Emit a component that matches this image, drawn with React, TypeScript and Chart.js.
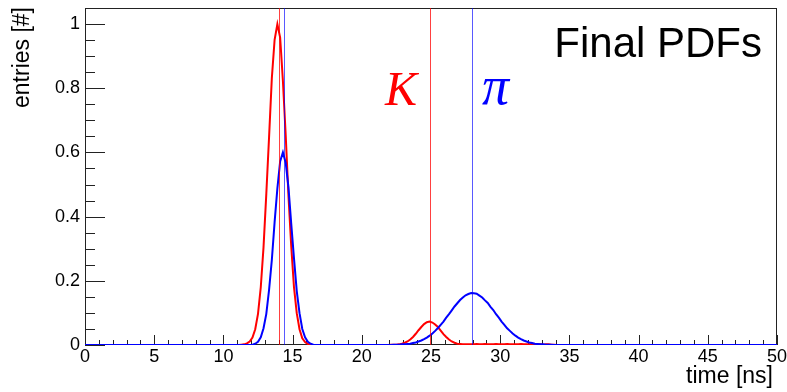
import { useEffect, useRef } from "react";
import { Chart, registerables } from "chart.js";

Chart.register(...registerables);

// Axis ranges and tick spacing
const X_MIN = 0;
const X_MAX = 50;
const Y_MIN = 0;
const Y_MAX = 1.05;
const X_MAJOR = 5;
const X_MINOR = 1;
const Y_MAJOR = 0.2;
const Y_MINOR = 0.05;

// Histogram binning (bin centres sit on odd tenths: 0.1, 0.3, ...)
const BIN_WIDTH = 0.2;

// Kaon PDF (red): prompt peak and delayed peak with a flat low tail
const KAON_PEAK1_START = 11.3;
const KAON_PEAK1 = [
  0.001, 0.002, 0.005, 0.011, 0.023, 0.049, 0.097, 0.18, 0.305, 0.471, 0.648, 0.832, 0.951, 1.0,
  0.958, 0.823, 0.655, 0.466, 0.309, 0.18, 0.099, 0.049, 0.021, 0.009, 0.003, 0.001, 0.0,
];
const KAON_PEAK2_START = 21.9;
const KAON_PEAK2 = [
  0.0, 0.001, 0.001, 0.001, 0.002, 0.004, 0.007, 0.011, 0.017, 0.025, 0.035, 0.046, 0.056, 0.065,
  0.071, 0.073, 0.07, 0.064, 0.056, 0.045, 0.034, 0.025, 0.017, 0.011, 0.007, 0.004, 0.003, 0.002,
  0.002, 0.002, 0.002, 0.002, 0.003, 0.002, 0.002, 0.003, 0.002, 0.002, 0.002, 0.003, 0.002, 0.002,
  0.002, 0.003, 0.002, 0.002, 0.002, 0.002, 0.003, 0.002, 0.002, 0.002, 0.002, 0.002, 0.002, 0.002,
  0.001, 0.002, 0.002, 0.001, 0.001,
];

// Pion PDF (blue)
const PION_PEAK1_START = 12.1;
const PION_PEAK1 = [
  0.001, 0.004, 0.01, 0.024, 0.052, 0.097, 0.172, 0.265, 0.383, 0.488, 0.572, 0.6, 0.568, 0.492,
  0.378, 0.27, 0.168, 0.099, 0.05, 0.024, 0.01, 0.004, 0.001,
];
const PION_PEAK2_START = 21.9;
const PION_PEAK2 = [
  0.0, 0.0, 0.001, 0.001, 0.001, 0.002, 0.002, 0.003, 0.004, 0.006, 0.008, 0.011, 0.014, 0.018,
  0.023, 0.029, 0.036, 0.044, 0.053, 0.063, 0.073, 0.085, 0.096, 0.108, 0.12, 0.13, 0.14, 0.148,
  0.155, 0.159, 0.162, 0.161, 0.16, 0.154, 0.148, 0.139, 0.131, 0.119, 0.109, 0.096, 0.085, 0.073,
  0.063, 0.052, 0.044, 0.036, 0.029, 0.023, 0.018, 0.014, 0.011, 0.008, 0.006, 0.004, 0.003, 0.002,
  0.002, 0.001, 0.001, 0.001, 0.0, 0.0,
];

// Mean arrival times marked with vertical lines
const KAON_MEANS = [14.0, 24.95];
const PION_MEANS = [14.35, 27.95];

const RED = "#ff0000";
const BLUE = "#0000ff";
const SANS = '"Liberation Sans", Arial, Helvetica, sans-serif';
const SERIF = '"Liberation Serif", "Times New Roman", serif';

type Segment = { start: number; values: number[] };

function histogramPoints(segments: Segment[]) {
  const nBins = Math.round((X_MAX - X_MIN) / BIN_WIDTH);
  const bins: number[] = new Array(nBins).fill(0);
  for (const seg of segments) {
    const first = Math.round((seg.start - X_MIN) / BIN_WIDTH - 0.5);
    seg.values.forEach((v, i) => {
      if (first + i >= 0 && first + i < nBins) bins[first + i] = v;
    });
  }
  const pts = [{ x: X_MIN, y: 0 }];
  bins.forEach((v, i) => pts.push({ x: X_MIN + (i + 0.5) * BIN_WIDTH, y: v }));
  pts.push({ x: X_MAX, y: 0 });
  return pts;
}

const frameAndTicks = {
  id: "frameAndTicks",
  beforeDatasetsDraw(chart: any) {
    const { ctx, chartArea, scales } = chart;
    const { left, right, top, bottom } = chartArea;
    const x = scales.x;
    const y = scales.y;
    ctx.save();
    ctx.lineWidth = 1;
    ctx.strokeStyle = "#222";
    ctx.strokeRect(left + 0.5, top + 0.5, right - left - 1, bottom - top - 1);

    const nx = Math.round((X_MAX - X_MIN) / X_MINOR);
    const perMajorX = Math.round(X_MAJOR / X_MINOR);
    ctx.beginPath();
    for (let i = 0; i <= nx; i++) {
      const px = Math.round(x.getPixelForValue(X_MIN + i * X_MINOR)) + 0.5;
      const len = i % perMajorX === 0 ? 10 : 5;
      ctx.moveTo(px, bottom);
      ctx.lineTo(px, bottom - len);
    }
    const ny = Math.floor((Y_MAX - Y_MIN) / Y_MINOR + 1e-6);
    const perMajorY = Math.round(Y_MAJOR / Y_MINOR);
    for (let i = 0; i <= ny; i++) {
      const py = Math.round(y.getPixelForValue(Y_MIN + i * Y_MINOR)) + 0.5;
      const len = i % perMajorY === 0 ? 20 : 10;
      ctx.moveTo(left, py);
      ctx.lineTo(left + len, py);
    }
    ctx.stroke();
    ctx.restore();
  },
  afterDatasetsDraw(chart: any) {
    const { ctx, chartArea, scales } = chart;
    const x = scales.x;
    ctx.save();
    ctx.lineWidth = 1;
    const drawMean = (m: number, color: string) => {
      const px = Math.round(x.getPixelForValue(m)) + 0.5;
      ctx.strokeStyle = color;
      ctx.beginPath();
      ctx.moveTo(px, chartArea.top);
      ctx.lineTo(px, chartArea.bottom);
      ctx.stroke();
    };
    KAON_MEANS.forEach((m) => drawMean(m, "rgba(255,0,0,0.75)"));
    PION_MEANS.forEach((m) => drawMean(m, "rgba(0,0,255,0.65)"));
    ctx.restore();
  },
  afterDraw(chart: any) {
    const { ctx } = chart;
    ctx.save();
    ctx.fillStyle = "#000";
    ctx.textBaseline = "alphabetic";

    ctx.font = `42px ${SANS}`;
    ctx.textAlign = "right";
    ctx.fillText("Final PDFs", 762, 57);

    ctx.font = `23px ${SANS}`;
    ctx.textAlign = "right";
    ctx.fillText("time [ns]", 773, 383);

    ctx.save();
    ctx.translate(29, 7);
    ctx.rotate(-Math.PI / 2);
    ctx.textAlign = "right";
    ctx.fillText("entries [#]", 0, 0);
    ctx.restore();

    ctx.textAlign = "left";
    ctx.font = `italic 48px ${SERIF}`;
    ctx.fillStyle = RED;
    ctx.fillText("K", 385, 105);
    ctx.font = `italic 54px ${SERIF}`;
    ctx.fillStyle = BLUE;
    ctx.fillText("π", 482, 104);
    ctx.restore();
  },
};

export default function App() {
  const canvasRef = useRef<HTMLCanvasElement | null>(null);

  useEffect(() => {
    const canvas = canvasRef.current;
    if (!canvas) return;
    const kaon = histogramPoints([
      { start: KAON_PEAK1_START, values: KAON_PEAK1 },
      { start: KAON_PEAK2_START, values: KAON_PEAK2 },
    ]);
    const pion = histogramPoints([
      { start: PION_PEAK1_START, values: PION_PEAK1 },
      { start: PION_PEAK2_START, values: PION_PEAK2 },
    ]);

    const chart = new Chart(canvas, {
      type: "line",
      data: {
        datasets: [
          {
            label: "π",
            data: pion,
            borderColor: BLUE,
            borderWidth: 2,
            pointRadius: 0,
            tension: 0,
            fill: false,
            order: 0,
          },
          {
            label: "K",
            data: kaon,
            borderColor: RED,
            borderWidth: 2,
            pointRadius: 0,
            tension: 0,
            fill: false,
            order: 1,
          },
        ],
      },
      options: {
        animation: false,
        responsive: false,
        events: [],
        layout: { padding: { left: 0, right: 10, top: 8, bottom: 0 } },
        plugins: {
          legend: { display: false },
          tooltip: { enabled: false },
          title: { display: false },
        },
        scales: {
          x: {
            type: "linear",
            min: X_MIN,
            max: X_MAX,
            grid: { display: false, drawTicks: false },
            border: { display: false },
            ticks: {
              stepSize: X_MAJOR,
              includeBounds: false,
              autoSkip: false,
              maxRotation: 0,
              padding: 1,
              color: "#000",
              font: { family: SANS, size: 18 },
            },
            afterFit(scale: any) {
              scale.height = 47;
              scale.paddingLeft = 0;
              scale.paddingRight = 0;
            },
          },
          y: {
            type: "linear",
            min: Y_MIN,
            max: Y_MAX,
            grid: { display: false, drawTicks: false },
            border: { display: false },
            ticks: {
              stepSize: Y_MAJOR,
              includeBounds: false,
              autoSkip: false,
              padding: 5,
              color: "#000",
              font: { family: SANS, size: 18 },
              callback: (v: any) => String(Math.round(Number(v) * 10) / 10),
            },
            afterFit(scale: any) {
              scale.width = 85;
              scale.paddingTop = 0;
              scale.paddingBottom = 0;
            },
          },
        },
      },
      plugins: [frameAndTicks],
    } as any);

    return () => chart.destroy();
  }, []);

  return (
    <div style={{ position: "absolute", left: 0, top: 0, width: 787, height: 392, background: "#fff" }}>
      <canvas ref={canvasRef} width={787} height={392} style={{ display: "block" }} />
    </div>
  );
}
